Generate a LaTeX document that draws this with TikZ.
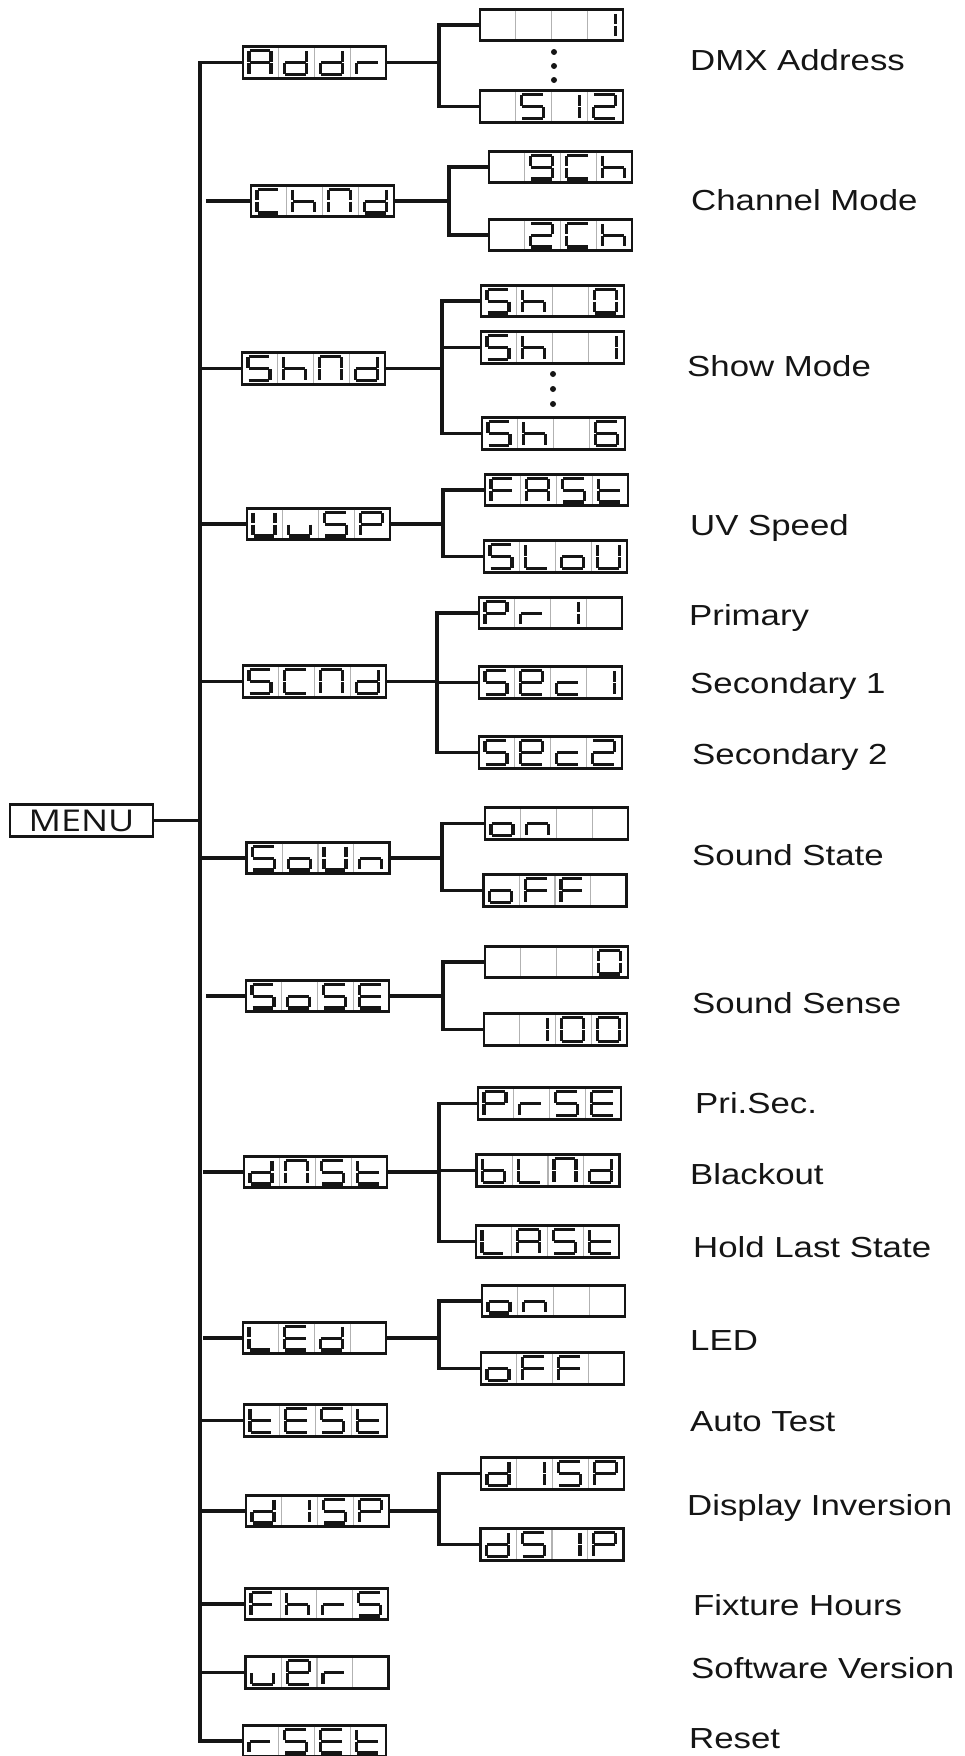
\documentclass[tikz,border=0pt]{standalone}
\usepackage{fontspec}
\newfontfamily\labfont[FakeStretch=1.2]{Liberation Sans}
\newfontfamily\menufont[FakeStretch=1.2]{Open Sans}
\definecolor{ink}{HTML}{151515}
\tikzset{
  dbox/.style={draw=ink, line width=2.7pt, minimum width=143pt, minimum height=31.5pt, inner sep=0pt, outer sep=0pt},
  sepl/.style={draw=black!30, line width=1.4pt},
  seg/.style={draw=ink, line width=3.1pt, line cap=butt},
  conn/.style={draw=ink, line width=3.1pt},
  lab/.style={anchor=base west, inner sep=0pt, text=ink, font=\labfont\fontsize{29}{34}\selectfont},
  dotm/.style={fill=ink, circle, inner sep=0pt, minimum size=6pt}
}
% segments
\newcommand\Sa{\draw[seg] (6.6,3.9)--(27.4,3.9);}
\newcommand\Sb{\draw[seg] (28,4.5)--(28,15.2);}
\newcommand\Sc{\draw[seg] (28,16.4)--(28,27.1);}
\newcommand\Sd{\draw[seg] (6.6,27.7)--(27.4,27.7);}
\newcommand\Se{\draw[seg] (6,16.4)--(6,27.1);}
\newcommand\Sf{\draw[seg] (6,4.5)--(6,15.2);}
\newcommand\Sg{\draw[seg] (6.6,15.8)--(27.4,15.8);}
% glyphs
\newcommand\sgA{\Sa\Sb\Sc\Se\Sf\Sg}
\newcommand\sgd{\Sb\Sc\Sd\Se\Sg}
\newcommand\sgr{\Se\Sg}
\newcommand\sgC{\Sa\Sd\Se\Sf}
\newcommand\sgh{\Sc\Se\Sf\Sg}
\newcommand\sgN{\Sa\Sb\Sc\Se\Sf}
\newcommand\sgS{\Sa\Sc\Sd\Sf\Sg}
\newcommand\sgU{\Sb\Sc\Sd\Se\Sf}
\newcommand\sgu{\Sc\Sd\Se}
\newcommand\sgP{\Sa\Sb\Se\Sf\Sg}
\newcommand\sgF{\Sa\Se\Sf\Sg}
\newcommand\sgt{\Sd\Se\Sf\Sg}
\newcommand\sgL{\Sd\Se\Sf}
\newcommand\sgo{\Sc\Sd\Se\Sg}
\newcommand\sgc{\Sd\Se\Sg}
\newcommand\sgE{\Sa\Sd\Se\Sf\Sg}
\newcommand\sge{\Sa\Sb\Sd\Se\Sf\Sg}
\newcommand\sgb{\Sc\Sd\Se\Sf\Sg}
\newcommand\sgn{\Sc\Se\Sg}
\newcommand\sgone{\Sb\Sc}
\newcommand\sgtwo{\Sa\Sb\Sd\Se\Sg}
\newcommand\sgnine{\Sa\Sb\Sc\Sd\Sf\Sg}
\newcommand\sgzero{\Sa\Sb\Sc\Sd\Se\Sf}
\newcommand\sgsix{\Sa\Sc\Sd\Se\Sf\Sg}
% display: node name, 4 glyphs
\newcommand\dspl[5]{%
  \begin{scope}[shift={(#1.north west)}]
    \draw[sepl] (35.75,1.4)--(35.75,30.1) (71.5,1.4)--(71.5,30.1) (107.25,1.4)--(107.25,30.1);
    \begin{scope}#2\end{scope}
    \begin{scope}[xshift=35.75pt]#3\end{scope}
    \begin{scope}[xshift=71.5pt]#4\end{scope}
    \begin{scope}[xshift=107.25pt]#5\end{scope}
  \end{scope}}
\begin{document}
\begin{tikzpicture}[x=1pt,y=-1pt]
\useasboundingbox[fill=white] (0,0) rectangle (964,1756);
% trunk and branch x coordinates
\coordinate (trunk) at (200,0);
\coordinate (bAddr) at (439,0);
\coordinate (bChNd) at (449,0);
\coordinate (bShNd) at (442,0);
\coordinate (bUvSP) at (443,0);
\coordinate (bSCNd) at (437,0);
\coordinate (bSoUn) at (442,0);
\coordinate (bSoSE) at (443,0);
\coordinate (bdNSt) at (439,0);
\coordinate (bLEd) at (439,0);
\coordinate (bdISP) at (439,0);

% MENU
\node[dbox, font=\menufont\fontsize{30}{34}\selectfont, text=ink] (menu) at (81.5,820.5) {MENU};

% main displays
\node[dbox] (addr) at (314.5,62.5) {};
\node[dbox] (chnd) at (322.5,201) {};
\node[dbox] (shnd) at (313.5,368.5) {};
\node[dbox] (uvsp) at (318.5,524) {};
\node[dbox] (scnd) at (314.5,681.5) {};
\node[dbox] (soun) at (318,858) {};
\node[dbox] (sose) at (317.5,996) {};
\node[dbox] (dnst) at (315.5,1172) {};
\node[dbox] (led) at (314.5,1338) {};
\node[dbox] (test) at (315.5,1420.5) {};
\node[dbox] (disp) at (317.5,1511) {};
\node[dbox] (fhrs) at (316.5,1604) {};
\node[dbox] (ver) at (317,1672.5) {};
\node[dbox] (rset) at (314.5,1741) {};

% sub displays
\node[dbox] (a1) at (551.5,25) {};
\node[dbox] (a512) at (551.5,106.5) {};
\node[dbox] (c9) at (560.5,167) {};
\node[dbox] (c2) at (560.5,235) {};
\node[dbox] (sh0) at (552.5,301) {};
\node[dbox] (sh1) at (552.5,347.5) {};
\node[dbox] (sh6) at (553.5,433.5) {};
\node[dbox] (fast) at (556.5,490) {};
\node[dbox] (slow) at (555.5,556.5) {};
\node[dbox] (pr1) at (550.5,613) {};
\node[dbox] (sec1) at (550.5,682.5) {};
\node[dbox] (sec2) at (550.5,752.5) {};
\node[dbox] (son) at (556.5,823.5) {};
\node[dbox] (soff) at (555,890.5) {};
\node[dbox] (s0) at (556.5,962) {};
\node[dbox] (s100) at (555.5,1029.5) {};
\node[dbox] (prse) at (549.5,1103.5) {};
\node[dbox] (blnd) at (548,1170.5) {};
\node[dbox] (last) at (547.5,1241.5) {};
\node[dbox] (lon) at (553.5,1301) {};
\node[dbox] (loff) at (552.5,1368.5) {};
\node[dbox] (d1) at (552.5,1473.5) {};
\node[dbox] (d2) at (552,1544.5) {};

% glyphs
\dspl{addr}{\sgA}{\sgd}{\sgd}{\sgr}
\dspl{chnd}{\sgC}{\sgh}{\sgN}{\sgd}
\dspl{shnd}{\sgS}{\sgh}{\sgN}{\sgd}
\dspl{uvsp}{\sgU}{\sgu}{\sgS}{\sgP}
\dspl{scnd}{\sgS}{\sgC}{\sgN}{\sgd}
\dspl{soun}{\sgS}{\sgo}{\sgU}{\sgn}
\dspl{sose}{\sgS}{\sgo}{\sgS}{\sgE}
\dspl{dnst}{\sgd}{\sgN}{\sgS}{\sgt}
\dspl{led}{\sgL}{\sgE}{\sgd}{}
\dspl{test}{\sgt}{\sgE}{\sgS}{\sgt}
\dspl{disp}{\sgd}{\sgone}{\sgS}{\sgP}
\dspl{fhrs}{\sgF}{\sgh}{\sgr}{\sgS}
\dspl{ver}{\sgu}{\sge}{\sgr}{}
\dspl{rset}{\sgr}{\sgS}{\sgE}{\sgt}

\dspl{a1}{}{}{}{\sgone}
\dspl{a512}{}{\sgS}{\sgone}{\sgtwo}
\dspl{c9}{}{\sgnine}{\sgC}{\sgh}
\dspl{c2}{}{\sgtwo}{\sgC}{\sgh}
\dspl{sh0}{\sgS}{\sgh}{}{\sgzero}
\dspl{sh1}{\sgS}{\sgh}{}{\sgone}
\dspl{sh6}{\sgS}{\sgh}{}{\sgsix}
\dspl{fast}{\sgF}{\sgA}{\sgS}{\sgt}
\dspl{slow}{\sgS}{\sgL}{\sgo}{\sgU}
\dspl{pr1}{\sgP}{\sgr}{\sgone}{}
\dspl{sec1}{\sgS}{\sge}{\sgc}{\sgone}
\dspl{sec2}{\sgS}{\sge}{\sgc}{\sgtwo}
\dspl{son}{\sgo}{\sgn}{}{}
\dspl{soff}{\sgo}{\sgF}{\sgF}{}
\dspl{s0}{}{}{}{\sgzero}
\dspl{s100}{}{\sgone}{\sgzero}{\sgzero}
\dspl{prse}{\sgP}{\sgr}{\sgS}{\sgE}
\dspl{blnd}{\sgb}{\sgL}{\sgN}{\sgd}
\dspl{last}{\sgL}{\sgA}{\sgS}{\sgt}
\dspl{lon}{\sgo}{\sgn}{}{}
\dspl{loff}{\sgo}{\sgF}{\sgF}{}
\dspl{d1}{\sgd}{\sgone}{\sgS}{\sgP}
\dspl{d2}{\sgd}{\sgS}{\sgone}{\sgP}

% dots
\node[dotm] (dA1) at (554,52) {};
\node[dotm] (dA2) at (554,66) {};
\node[dotm] (dA3) at (554,80) {};
\node[dotm] (dS1) at (553,374) {};
\node[dotm] (dS2) at (553,389) {};
\node[dotm] (dS3) at (553,404) {};

% trunk
\draw[conn] (addr.west) -- (addr.west -| trunk) -- (rset.west -| trunk) -- (rset.west);
\draw[conn] (menu.east) -- ([xshift=2pt]menu.east -| trunk);
\draw[conn] ([xshift=6pt]chnd.west -| trunk) -- (chnd.west);
\draw[conn] (shnd.west -| trunk) -- (shnd.west);
\draw[conn] (uvsp.west -| trunk) -- (uvsp.west);
\draw[conn] (scnd.west -| trunk) -- (scnd.west);
\draw[conn] (soun.west -| trunk) -- (soun.west);
\draw[conn] ([xshift=6pt]sose.west -| trunk) -- (sose.west);
\draw[conn] ([xshift=3pt]dnst.west -| trunk) -- (dnst.west);
\draw[conn] ([xshift=3pt]led.west -| trunk) -- (led.west);
\draw[conn] (test.west -| trunk) -- (test.west);
\draw[conn] (disp.west -| trunk) -- (disp.west);
\draw[conn] (fhrs.west -| trunk) -- (fhrs.west);
\draw[conn] (ver.west -| trunk) -- (ver.west);

% branches
\draw[conn] (addr.east) -- (addr.east -| bAddr);
\draw[conn] (a1.west) -- (a1.west -| bAddr) -- (a512.west -| bAddr) -- (a512.west);

\draw[conn] (chnd.east) -- (chnd.east -| bChNd);
\draw[conn] (c9.west) -- (c9.west -| bChNd) -- (c2.west -| bChNd) -- (c2.west);

\draw[conn] (shnd.east) -- (shnd.east -| bShNd);
\draw[conn] (sh0.west) -- (sh0.west -| bShNd) -- (sh6.west -| bShNd) -- (sh6.west);
\draw[conn] (sh1.west -| bShNd) -- (sh1.west);

\draw[conn] (uvsp.east) -- (uvsp.east -| bUvSP);
\draw[conn] (fast.west) -- (fast.west -| bUvSP) -- (slow.west -| bUvSP) -- (slow.west);

\draw[conn] (scnd.east) -- (scnd.east -| bSCNd);
\draw[conn] (pr1.west) -- (pr1.west -| bSCNd) -- (sec2.west -| bSCNd) -- (sec2.west);
\draw[conn] (sec1.west -| bSCNd) -- (sec1.west);

\draw[conn] (soun.east) -- (soun.east -| bSoUn);
\draw[conn] (son.west) -- (son.west -| bSoUn) -- (soff.west -| bSoUn) -- (soff.west);

\draw[conn] (sose.east) -- (sose.east -| bSoSE);
\draw[conn] (s0.west) -- (s0.west -| bSoSE) -- (s100.west -| bSoSE) -- (s100.west);

\draw[conn] (dnst.east) -- (dnst.east -| bdNSt);
\draw[conn] (prse.west) -- (prse.west -| bdNSt) -- (last.west -| bdNSt) -- (last.west);
\draw[conn] (blnd.west -| bdNSt) -- (blnd.west);

\draw[conn] (led.east) -- (led.east -| bLEd);
\draw[conn] (lon.west) -- (lon.west -| bLEd) -- (loff.west -| bLEd) -- (loff.west);

\draw[conn] (disp.east) -- (disp.east -| bdISP);
\draw[conn] (d1.west) -- (d1.west -| bdISP) -- (d2.west -| bdISP) -- (d2.west);

% labels
\node[lab] (l1) at (690,70.4) {DMX Address};
\node[lab] (l2) at (691,210.4) {Channel Mode};
\node[lab] (l3) at (687,376.4) {Show Mode};
\node[lab] (l4) at (690,535.4) {UV Speed};
\node[lab] (l5) at (689,625.4) {Primary};
\node[lab] (l6) at (690,693.4) {Secondary 1};
\node[lab] (l7) at (692,764.4) {Secondary 2};
\node[lab] (l8) at (692,865.4) {Sound State};
\node[lab] (l9) at (692,1013.4) {Sound Sense};
\node[lab] (l10) at (695,1113.4) {Pri.Sec.};
\node[lab] (l11) at (690,1184.4) {Blackout};
\node[lab] (l12) at (693,1257.4) {Hold Last State};
\node[lab] (l13) at (690,1350.4) {LED};
\node[lab] (l14) at (690,1431.4) {Auto Test};
\node[lab] (l15) at (687,1515.4) {Display Inversion};
\node[lab] (l16) at (693,1615.4) {Fixture Hours};
\node[lab] (l17) at (691,1678.4) {Software Version};
\node[lab] (l18) at (689,1748.4) {Reset};
\end{tikzpicture}
\end{document}
